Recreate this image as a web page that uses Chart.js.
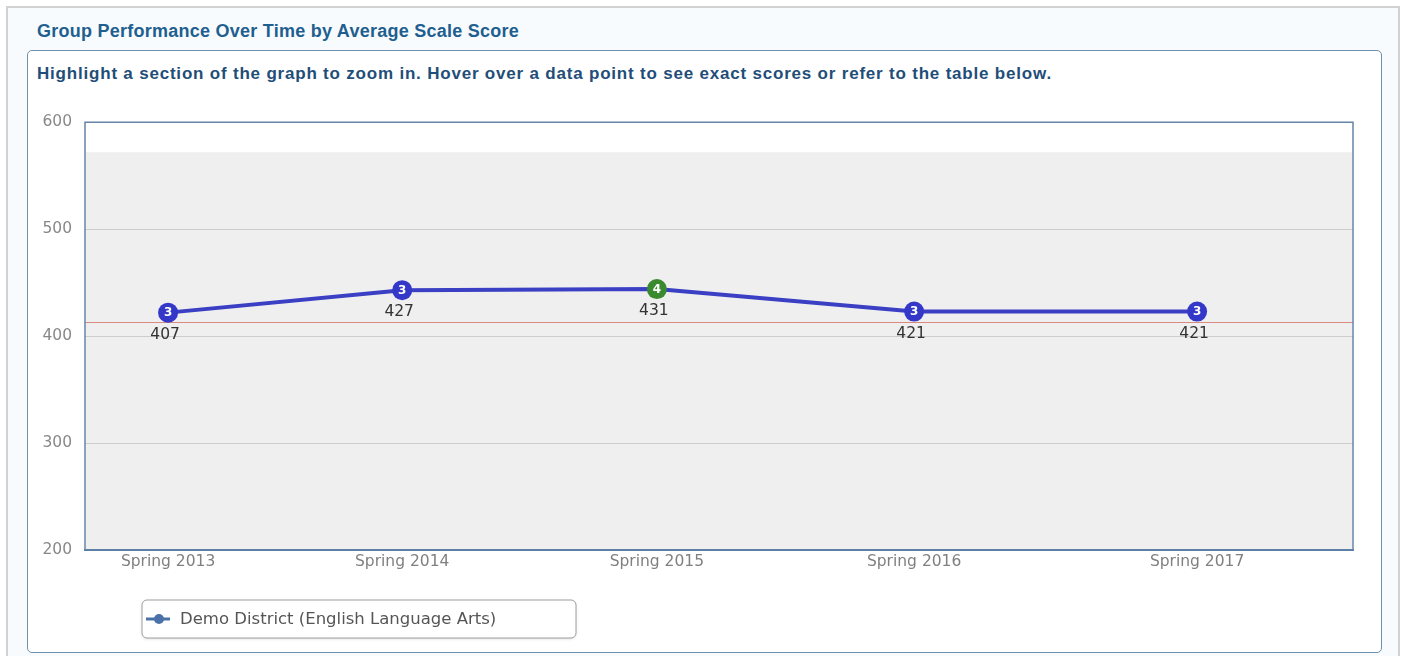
<!DOCTYPE html>
<html>
<head>
<meta charset="utf-8">
<script src="https://cdn.jsdelivr.net/npm/chart.js@4.4.0/dist/chart.umd.min.js"></script>
<style>
html, body { margin: 0; padding: 0; background: #fff; }
body { width: 1406px; height: 656px; position: relative; overflow: hidden; font-family: 'Liberation Sans', Arial, sans-serif; }
#frame { position: absolute; left: 6px; top: 6px; width: 1394px; height: 670px; border: 2px solid #d2d2d2; background: #f7fbfe; box-sizing: border-box; }
#title { position: absolute; left: 37px; top: 21px; font-size: 18px; font-weight: bold; color: #1f5f8f; letter-spacing: 0.25px; }
#box { position: absolute; left: 27px; top: 50px; width: 1355px; height: 603px; border: 1.5px solid #7090ab; border-radius: 5px; background: #fff; box-sizing: border-box; }
#subtitle { position: absolute; left: 37px; top: 64px; font-size: 17px; font-weight: bold; color: #1f4e79; letter-spacing: 0.8px; }
#wrap { position: absolute; left: 28px; top: 100px; width: 1350px; height: 550px; }
</style>
</head>
<body>
<div id="frame"></div>
<div id="title">Group Performance Over Time by Average Scale Score</div>
<div id="box"></div>
<div id="subtitle">Highlight a section of the graph to zoom in. Hover over a data point to see exact scores or refer to the table below.</div>
<div id="wrap"><canvas id="scoreChart"></canvas></div>

<script>
// test administrations (x position in years)
const seasons = ['Spring 2013', 'Spring 2014', 'Spring 2015', 'Spring 2016', 'Spring 2017'];
const testYears = [2013.0, 2013.91, 2014.9, 2015.9, 2017.0];

// where the points sit on the score axis, and the score text shown under them
const plottedScores = [422, 443, 444, 423, 423];
const scoreLabels = ['407', '427', '431', '421', '421'];

// performance level shown inside each marker
const levelBadges = ['3', '3', '4', '3', '3'];
const badgeColors = ['#3438c8', '#3438c8', '#3a8a30', '#3438c8', '#3438c8'];

const yTicks = [200, 300, 400, 500, 600];
const targetScore = 413;   // red reference line
const bandTop = 572;       // top of the grey band

const seriesName = 'Demo District (English Language Arts)';

// grey band behind the grid
const bandPlugin = {
    id: 'band',
    beforeDraw(chart) {
        const ctx = chart.ctx;
        const area = chart.chartArea;
        const y = chart.scales.y;
        ctx.save();
        ctx.fillStyle = '#efefef';
        const top = y.getPixelForValue(bandTop);
        ctx.fillRect(area.left + 1, top, area.right - area.left - 2, area.bottom - top);
        ctx.restore();
    }
};

// red reference line and the plot frame
const framePlugin = {
    id: 'frame',
    beforeDatasetsDraw(chart) {
        const ctx = chart.ctx;
        const area = chart.chartArea;
        const y = chart.scales.y.getPixelForValue(targetScore);
        ctx.save();
        ctx.strokeStyle = '#d88a80';
        ctx.lineWidth = 1;
        ctx.beginPath();
        ctx.moveTo(area.left, Math.round(y) + 0.5);
        ctx.lineTo(area.right, Math.round(y) + 0.5);
        ctx.stroke();

        ctx.strokeStyle = '#6584a6';
        ctx.lineWidth = 1.5;
        ctx.beginPath();
        ctx.moveTo(area.left, area.bottom);
        ctx.lineTo(area.left, area.top);
        ctx.lineTo(area.right, area.top);
        ctx.lineTo(area.right, area.bottom);
        ctx.stroke();
        ctx.restore();
    }
};

// level number inside markers, score text below
const badgePlugin = {
    id: 'badges',
    afterDatasetsDraw(chart) {
        const ctx = chart.ctx;
        const meta = chart.getDatasetMeta(0);
        ctx.save();
        ctx.textAlign = 'center';
        ctx.textBaseline = 'middle';
        meta.data.forEach((pt, i) => {
            ctx.fillStyle = '#ffffff';
            ctx.font = 'bold 12px "DejaVu Sans", sans-serif';
            ctx.fillText(levelBadges[i], pt.x, pt.y + 0.5);
            ctx.fillStyle = '#333333';
            ctx.font = '15.5px "DejaVu Sans", sans-serif';
            ctx.fillText(scoreLabels[i], pt.x - 3, pt.y + 22);
        });
        ctx.restore();
    }
};

// boxed legend under the plot
const legendPlugin = {
    id: 'boxLegend',
    afterDraw(chart) {
        const ctx = chart.ctx;
        const area = chart.chartArea;
        const left = area.left + 57;
        const top = area.bottom + 50;
        const w = 434, h = 38;
        ctx.save();
        ctx.shadowColor = 'rgba(0,0,0,0.15)';
        ctx.shadowBlur = 3;
        ctx.shadowOffsetY = 1;
        ctx.fillStyle = '#ffffff';
        ctx.beginPath();
        ctx.roundRect(left, top, w, h, 5);
        ctx.fill();
        ctx.shadowColor = 'transparent';
        ctx.strokeStyle = '#9e9e9e';
        ctx.lineWidth = 1;
        ctx.stroke();

        const cy = top + h / 2;
        ctx.strokeStyle = '#4a72a8';
        ctx.lineWidth = 3;
        ctx.beginPath();
        ctx.moveTo(left + 4, cy);
        ctx.lineTo(left + 28, cy);
        ctx.stroke();
        ctx.fillStyle = '#4a72a8';
        ctx.beginPath();
        ctx.arc(left + 17, cy, 5, 0, Math.PI * 2);
        ctx.fill();

        ctx.fillStyle = '#555555';
        ctx.font = '16.5px "DejaVu Sans", sans-serif';
        ctx.textBaseline = 'middle';
        ctx.fillText(chart.data.datasets[0].label, left + 38, cy + 1);
        ctx.restore();
    }
};

const ctx = document.getElementById('scoreChart').getContext('2d');
const scoreChart = new Chart(ctx, {
    type: 'line',
    data: {
        datasets: [{
            label: seriesName,
            data: testYears.map((x, i) => ({ x: x, y: plottedScores[i] })),
            borderColor: '#3a3fc4',
            borderWidth: 4,
            pointRadius: 10,
            pointBackgroundColor: badgeColors,
            pointBorderColor: badgeColors,
            pointBorderWidth: 0,
            tension: 0
        }]
    },
    options: {
        responsive: true,
        maintainAspectRatio: false,
        animation: false,
        layout: { padding: { left: 0, right: 25, top: 18, bottom: 0 } },
        scales: {
            x: {
                type: 'linear',
                min: 2012.677,
                max: 2017.606,
                afterBuildTicks: (axis) => { axis.ticks = testYears.map(v => ({ value: v })); },
                afterFit: (axis) => { axis.height = 100; },
                grid: { display: false, drawTicks: false },
                border: { display: true, color: '#5d7fa3', width: 2 },
                ticks: {
                    autoSkip: false,
                    maxRotation: 0,
                    padding: 3,
                    color: '#808080',
                    font: { family: '"DejaVu Sans", sans-serif', size: 15.5 },
                    callback: (value, index) => seasons[index]
                }
            },
            y: {
                min: 200,
                max: 600,
                afterBuildTicks: (axis) => { axis.ticks = yTicks.map(v => ({ value: v })); },
                afterFit: (axis) => { axis.width = 57; },
                grid: {
                    drawTicks: false,
                    color: (c) => (c.tick && c.tick.value > 200 && c.tick.value < 600) ? '#cdcdcd' : 'rgba(0,0,0,0)'
                },
                border: { display: false },
                ticks: {
                    padding: 13,
                    color: '#888888',
                    font: { family: '"DejaVu Sans", sans-serif', size: 15.5 }
                }
            }
        },
        plugins: {
            legend: { display: false },
            tooltip: { enabled: false }
        }
    },
    plugins: [bandPlugin, framePlugin, badgePlugin, legendPlugin]
});
</script>
</body>
</html>
